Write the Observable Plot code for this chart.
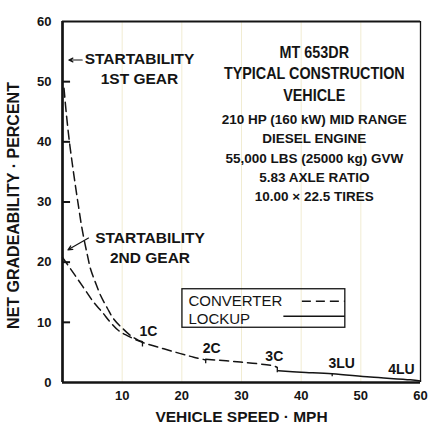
<!DOCTYPE html>
<html>
<head>
<meta charset="utf-8">
<script src="https://cdn.jsdelivr.net/npm/d3@7"></script>
<script src="https://cdn.jsdelivr.net/npm/@observablehq/plot@0.6"></script>
<style>
  html, body { margin: 0; padding: 0; background: #fff; }
</style>
</head>
<body>
<div id="chart"></div>
<script>
// ---- axis ticks ----
const xTicks = [10, 20, 30, 40, 50, 60];
const yTicks = [0, 10, 20, 30, 40, 50, 60];

// ---- converter, 1st gear (speed mph, net gradeability %) ----
const gear1Speed = [0.25, 0.67, 1.17, 1.68, 2.18, 2.68, 3.18, 3.69, 4.19, 4.69, 5.53, 6.37, 7.54, 8.55, 10.06, 11.4, 12.74, 13.3];
const gear1Grade = [48.9, 44.4, 39.9, 36.1, 32.6, 29.3, 26.1, 23.4, 21.1, 18.9, 16.6, 14.5, 12.3, 10.6, 9.0, 7.8, 7.0, 6.8];

// ---- converter, 2nd gear ----
const gear2Speed = [0, 1.34, 2.46, 3.85, 5.25, 6.65, 8.04, 9.44, 10.84, 12.52, 14.19, 16.98, 19.78, 22.0, 24.0];
const gear2Grade = [20.8, 18.9, 17.3, 15.3, 13.3, 11.7, 10.0, 8.6, 7.8, 7.0, 6.4, 5.6, 4.8, 4.2, 3.75];

// ---- converter, 3rd gear ----
const gear3Speed = [24.0, 29.8, 35.4, 36.0];
const gear3Grade = [3.85, 3.4, 2.75, 2.5];

// ---- lockup ----
const lockupSpeed = [36.2, 40.0, 45.2, 51.6, 58.3, 60.0];
const lockupGrade = [1.95, 1.72, 1.45, 0.9, 0.45, 0.25];

// ---- shift points ----
const shiftLabels = ["1C", "2C", "3C", "3LU", "4LU"];
const shiftLabelSpeed = [14.4, 25.0, 35.5, 46.8, 56.8];
const shiftLabelGrade = [8.5, 5.6, 4.3, 3.2, 2.1];
const shiftTickSpeed = [13.4, 24.0, 36.0, 45.2];
const shiftTickTop = [6.8, 3.75, 2.5, 1.45];
const shiftTickBottom = [5.9, 3.1, 1.6, 0.95];

// ---- startability notes ----
const startLabels = ["STARTABILITY\n1ST GEAR", "STARTABILITY\n2ND GEAR"];
const startLabelSpeed = [12.9, 14.66];
const startLabelGrade = [52.3, 22.6];
const startArrowFromSpeed = [3.3, 4.36];
const startArrowFromGrade = [53.6, 24.0];
const startArrowToSpeed = [1.06, 0.92];
const startArrowToGrade = [53.6, 22.05];

// ---- vehicle description ----
const titleLines = ["MT 653DR", "TYPICAL CONSTRUCTION", "VEHICLE"];
const titleLineGrade = [54.84, 51.27, 47.7];
const specLines = ["210 HP (160 kW) MID RANGE", "DIESEL ENGINE", "55,000 LBS (25000 kg) GVW", "5.83 AXLE RATIO", "10.00 \u00d7 22.5 TIRES"];

// ---- legend ----
const legendLabels = ["CONVERTER", "LOCKUP"];

// ---- axis titles ----
const xTitle = "VEHICLE SPEED \u00b7 MPH";
const yTitle = "NET GRADEABILITY \u00b7 PERCENT";

const toRows = (xs, ys) => xs.map((s, i) => ({s, g: ys[i]}));
const gear1 = toRows(gear1Speed, gear1Grade);
const gear2 = toRows(gear2Speed, gear2Grade);
const gear3 = toRows(gear3Speed, gear3Grade);
const lockup = toRows(lockupSpeed, lockupGrade);
const shiftTicks = shiftTickSpeed.map((s, i) => ({s, top: shiftTickTop[i], bottom: shiftTickBottom[i]}));
const shiftText = shiftLabels.map((t, i) => ({t, s: shiftLabelSpeed[i], g: shiftLabelGrade[i]}));
const starts = startLabels.map((t, i) => ({
  t, s: startLabelSpeed[i], g: startLabelGrade[i],
  x1: startArrowFromSpeed[i], y1: startArrowFromGrade[i],
  x2: startArrowToSpeed[i], y2: startArrowToGrade[i]
}));
const titleRows = titleLines.map((t, i) => ({t, g: titleLineGrade[i]}));

const ink = "#141414";
const dash = "9,5";

const svg = Plot.plot({
  width: 429,
  height: 425,
  marginLeft: 62,
  marginRight: 9,
  marginTop: 21,
  marginBottom: 43,
  x: {domain: [0, 60]},
  y: {domain: [0, 60]},
  style: {
    fontFamily: "'Liberation Sans', Arial, Helvetica, sans-serif",
    fontWeight: "bold",
    fontSize: "13px",
    color: ink,
    background: "#fff"
  },
  marks: [
    // faint paper grid
    Plot.ruleX(xTicks.slice(0, 5), {stroke: "#f1ecd2", strokeWidth: 1}),

    // axes labels
    Plot.axisX(xTicks, {tickSize: 0, tickPadding: 8, fontSize: 13, fontWeight: "bold", label: null}),
    Plot.axisY(yTicks, {tickSize: 0, tickPadding: 11, fontSize: 13, fontWeight: "bold", label: null}),

    // inner y ticks
    Plot.ruleY(yTicks.filter(v => v > 0 && v < 60), {x1: 0, x2: 1.35, stroke: ink, strokeWidth: 2}),

    // curves
    Plot.line(gear1, {x: "s", y: "g", stroke: ink, strokeWidth: 1.5, strokeDasharray: dash, curve: "catmull-rom"}),
    Plot.line(gear2, {x: "s", y: "g", stroke: ink, strokeWidth: 1.5, strokeDasharray: dash, curve: "catmull-rom"}),
    Plot.line(gear3, {x: "s", y: "g", stroke: ink, strokeWidth: 1.5, strokeDasharray: dash, curve: "catmull-rom"}),
    Plot.line(lockup, {x: "s", y: "g", stroke: ink, strokeWidth: 1.5, curve: "catmull-rom"}),

    // shift ticks
    Plot.ruleX(shiftTicks, {x: "s", y1: "top", y2: "bottom", stroke: ink, strokeWidth: 1.3}),

    // shift labels
    Plot.text(shiftText, {x: "s", y: "g", text: "t", fontSize: 14, fontWeight: "bold", fill: ink}),

    // startability notes
    Plot.arrow(starts, {x1: "x1", y1: "y1", x2: "x2", y2: "y2", stroke: ink, strokeWidth: 1.2, headLength: 6, headAngle: 50}),
    Plot.text(starts, {x: "s", y: "g", text: "t", fontSize: 15.5, fontWeight: "bold", lineHeight: 1.26, fill: ink}),

    // vehicle description
    Plot.text(titleRows, {x: 42.2, y: "g", text: "t", fontSize: 16.5, fontWeight: "bold", fill: ink}),
    Plot.text([specLines.join("\n")], {x: 42.2, y: 37.56, fontSize: 13.5, fontWeight: "bold", lineHeight: 1.43, fill: ink}),

    // legend
    Plot.rect([0], {x1: 20.1, x2: 47.4, y1: 9.1, y2: 15.5, fill: "none", stroke: ink, strokeWidth: 1.3}),
    Plot.text(legendLabels, {x: 21.1, y: (d, i) => [13.45, 10.5][i], text: d => d, textAnchor: "start", fontSize: 15, fontWeight: "normal", fill: ink}),
    Plot.ruleY([13.5], {x1: 40.2, x2: 47.4, stroke: ink, strokeWidth: 1.4, strokeDasharray: dash}),
    Plot.ruleY([11.0], {x1: 37.1, x2: 47.4, stroke: ink, strokeWidth: 1.4}),

    // frame
    Plot.ruleY([60], {stroke: ink, strokeWidth: 1.8}),
    Plot.ruleX([60], {stroke: ink, strokeWidth: 1.3}),
    Plot.ruleX([0], {stroke: ink, strokeWidth: 2.7}),
    Plot.ruleY([0], {stroke: ink, strokeWidth: 2.7}),

    // axis titles
    Plot.text([xTitle], {frameAnchor: "bottom", dy: 35, lineAnchor: "middle", textAnchor: "middle", text: d => d, fontSize: 15.5, fontWeight: "bold", fill: ink}),
    Plot.text([yTitle], {frameAnchor: "left", dx: -49, dy: 3.5, rotate: -90, lineAnchor: "middle", textAnchor: "middle", text: d => d, fontSize: 16, fontWeight: "bold", fill: ink})
  ]
});

document.getElementById("chart").append(svg);

// condensed type for the vehicle title lines
svg.querySelectorAll("text").forEach(t => {
  if (t.querySelector("tspan")) return;
  if (!titleLines.includes(t.textContent)) return;
  const w = t.getComputedTextLength();
  t.setAttribute("textLength", (w * 0.87).toFixed(1));
  t.setAttribute("lengthAdjust", "spacingAndGlyphs");
});
</script>
</body>
</html>
